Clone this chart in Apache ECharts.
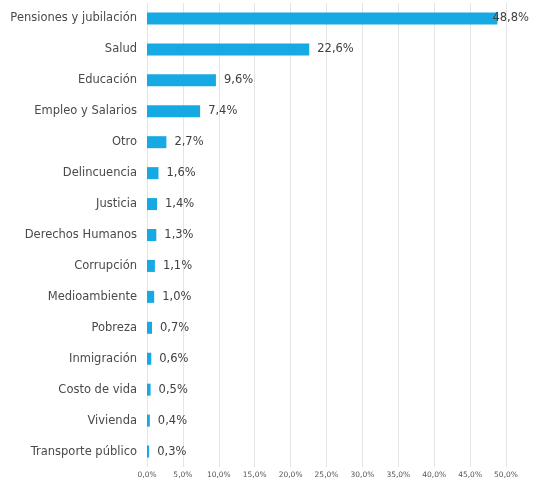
<!DOCTYPE html>
<html>
<head>
<meta charset="utf-8">
<script src="https://cdn.jsdelivr.net/npm/echarts@6/dist/echarts.min.js"></script>
<style>
  html, body { margin: 0; padding: 0; background: #fff; }
  #chart { width: 534px; height: 481px; }
</style>
</head>
<body>
<div id="chart"></div>
<script>
// Temas citados, de mayor a menor
const categorias = [
    'Pensiones y jubilación', 'Salud', 'Educación', 'Empleo y Salarios', 'Otro',
    'Delincuencia', 'Justicia', 'Derechos Humanos', 'Corrupción', 'Medioambiente',
    'Pobreza', 'Inmigración', 'Costo de vida', 'Vivienda', 'Transporte público'
];
const porcentajes = [48.8, 22.6, 9.6, 7.4, 2.7, 1.6, 1.4, 1.3, 1.1, 1.0, 0.7, 0.6, 0.5, 0.4, 0.3];
const ticks = [0, 5, 10, 15, 20, 25, 30, 35, 40, 45, 50];

const fmt = v => v.toFixed(1).replace('.', ',') + '%';

const chart = echarts.init(document.getElementById('chart'));

chart.setOption({
    animation: false,
    grid: { left: 147, right: 28, top: 3, bottom: 14, containLabel: false },
    xAxis: {
        type: 'value',
        min: ticks[0],
        max: ticks[ticks.length - 1],
        interval: 5,
        axisLine: { show: false },
        axisTick: { show: false },
        axisLabel: {
            formatter: fmt,
            fontFamily: 'DejaVu Sans',
            fontSize: 7.5,
            color: '#555',
            margin: 4
        },
        splitLine: { lineStyle: { color: '#e4e4e4', width: 1 } }
    },
    yAxis: {
        type: 'category',
        inverse: true,
        data: categorias,
        axisLine: { show: false },
        axisTick: { show: false },
        axisLabel: {
            fontFamily: 'DejaVu Sans',
            fontSize: 11.5,
            color: '#4a4a4a',
            margin: 10
        }
    },
    series: [{
        type: 'bar',
        barWidth: 12,
        itemStyle: { color: '#17a9e4' },
        label: {
            show: true,
            position: 'right',
            distance: 8,
            fontFamily: 'DejaVu Sans',
            fontSize: 11.5,
            color: '#404040',
            formatter: p => fmt(p.value)
        },
        data: porcentajes.map((v, i) => i === 0
            ? { value: v, label: { offset: [-13, 0] } }
            : v)
    }]
});
</script>
</body>
</html>
